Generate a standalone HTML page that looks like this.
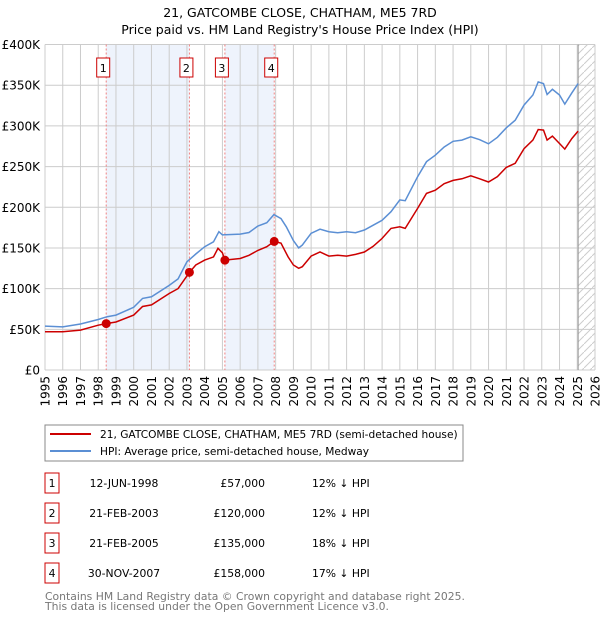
<!DOCTYPE html>
<html><head><meta charset="utf-8"><style>
body{margin:0;background:#fff;font-family:"DejaVu Sans","Liberation Sans",sans-serif;}
svg text{font-family:"DejaVu Sans","Liberation Sans",sans-serif;}
</style></head><body>
<svg id="chart" width="600" height="620">
<defs><pattern id="hatch" patternUnits="userSpaceOnUse" width="8" height="8"><path d="M0,8 L8,0" stroke="#ccc" stroke-width="1"/></pattern></defs>
<text x="300" y="17" text-anchor="middle" font-size="12.5">21, GATCOMBE CLOSE, CHATHAM, ME5 7RD</text>
<text x="300" y="34" text-anchor="middle" font-size="12.5">Price paid vs. HM Land Registry's House Price Index (HPI)</text>
<g id="plot"></g>
<rect x="45" y="425" width="418" height="36" fill="#fff" stroke="#888"/>
<line x1="50" y1="434" x2="91" y2="434" stroke="#cc0000" stroke-width="2"/>
<text x="100" y="438" font-size="10.6">21, GATCOMBE CLOSE, CHATHAM, ME5 7RD (semi-detached house)</text>
<line x1="50" y1="451" x2="91" y2="451" stroke="#5b8fd4" stroke-width="2"/>
<text x="100" y="455" font-size="10.6">HPI: Average price, semi-detached house, Medway</text>
<g id="table"></g>
<text x="45" y="600" font-size="10.8" fill="#777">Contains HM Land Registry data © Crown copyright and database right 2025.</text>
<text x="45" y="610" font-size="10.8" fill="#777">This data is licensed under the Open Government Licence v3.0.</text>
</svg>
<script>
const hpiYears=[1995,1996,1997,1998,1998.5,1999,2000,2000.5,2001,2002,2002.5,2003,2003.5,2004,2004.5,2004.8,2005,2006,2006.5,2007,2007.5,2007.9,2008.3,2008.6,2009,2009.3,2009.5,2010,2010.5,2011,2011.5,2012,2012.5,2013,2013.5,2014,2014.5,2015,2015.3,2016,2016.5,2017,2017.5,2018,2018.5,2019,2019.5,2020,2020.5,2021,2021.5,2022,2022.5,2022.8,2023.1,2023.3,2023.6,2024,2024.3,2024.7,2025.05];
const hpiValues=[54,53,56.5,62,65.5,67.5,77,88,90,104,112,133,142.5,151.5,157.6,170,166,167,169,177,181,191,186,176,159,150,153.5,168,173,170,168.7,170,168.7,172,178,184,194.5,209,208,237.5,256,264,274,281,282.5,286.6,283,278,286,297.6,307,325.5,338,354,352,338.6,345,338,326.7,340.6,352];
const priceYears=[1995,1996,1997,1998,1998.45,1999,2000,2000.5,2001,2002,2002.5,2003.14,2003.5,2004,2004.5,2004.75,2005,2005.14,2006,2006.5,2007,2007.5,2007.92,2008.3,2008.7,2009,2009.3,2009.5,2010,2010.5,2011,2011.5,2012,2012.5,2013,2013.5,2014,2014.5,2015,2015.3,2016,2016.5,2017,2017.5,2018,2018.5,2019,2019.5,2020,2020.5,2021,2021.5,2022,2022.5,2022.8,2023.1,2023.3,2023.6,2024,2024.3,2024.7,2025.05];
const priceValues=[47,47,49,55,57,59,67.5,78,80,94,100,120,129,135,139,149.5,144,135,137,141,147,151.5,158,156,139,129,125,127,140,145,140,141,140,142,145,152,161.7,174,176,174,198.6,217,221,229,233,235,238.7,235,231,237.5,249,254,272,282.5,295.6,294.8,282.5,287.4,278.4,271.5,284.5,293.6];
const saleLabels=["1","2","3","4"];
const saleYears=[1998.45,2003.14,2005.14,2007.92];
const saleValues=[57,120,135,158];
const saleDates=["12-JUN-1998","21-FEB-2003","21-FEB-2005","30-NOV-2007"];
const salePrices=["£57,000","£120,000","£135,000","£158,000"];
const saleDiffs=["12% ↓ HPI","12% ↓ HPI","18% ↓ HPI","17% ↓ HPI"];
const yTicks=[0,50,100,150,200,250,300,350,400];
const yTickLabels=["£0","£50K","£100K","£150K","£200K","£250K","£300K","£350K","£400K"];
const xTicks=[1995,1996,1997,1998,1999,2000,2001,2002,2003,2004,2005,2006,2007,2008,2009,2010,2011,2012,2013,2014,2015,2016,2017,2018,2019,2020,2021,2022,2023,2024,2025,2026];

const NS="http://www.w3.org/2000/svg";
const X0=45,X1=595,Y0=370,Y1=44.5;
const xs=y=>X0+(y-1995)/(2026-1995)*(X1-X0);
const ys=v=>Y0-v/400*(Y0-Y1);
const plot=document.getElementById('plot');
function mk(tag,attrs,parent){const e=document.createElementNS(NS,tag);for(const k in attrs)e.setAttribute(k,attrs[k]);(parent||plot).appendChild(e);return e;}

let r;
r=mk('rect',{x:xs(saleYears[0]),y:Y1,width:xs(saleYears[1])-xs(saleYears[0]),height:Y0-Y1,fill:'#eef3fc'});


r=mk('rect',{x:xs(saleYears[2]),y:Y1,width:xs(saleYears[3])-xs(saleYears[2]),height:Y0-Y1,fill:'#eef3fc'});


r=mk('rect',{x:xs(2025.05),y:Y1,width:X1-xs(2025.05),height:Y0-Y1,fill:'url(#hatch)'});



yTicks.forEach((v,i)=>{
  const l=mk('line',{x1:X0,x2:X1,y1:ys(v),y2:ys(v),stroke:'#ccc','stroke-width':1});
  
  
  const t=mk('text',{x:40,y:ys(v)+4.5,'text-anchor':'end','font-size':12});
  t.textContent=yTickLabels[i];
  
  
});
xTicks.forEach(y=>{
  const l=mk('line',{x1:xs(y),x2:xs(y),y1:Y1,y2:Y0,stroke:'#ccc','stroke-width':1});
  
  
  const t=mk('text',{x:0,y:0,'text-anchor':'end','font-size':12,transform:`translate(${xs(y)+4.5},376) rotate(-90)`});
  t.textContent=y;
  
  
});
const nl=mk('line',{x1:xs(2025.05),x2:xs(2025.05),y1:Y1,y2:Y0,stroke:'#999','stroke-width':1});



saleYears.forEach((y,i)=>{
  const l=mk('line',{x1:xs(y),x2:xs(y),y1:Y1,y2:Y0,stroke:'#f08080','stroke-width':1,'stroke-dasharray':'2,2'});
  
  
  const b=mk('rect',{x:xs(y)-9.5,y:58,width:13,height:19,fill:'#fff',stroke:'#cc0000'});
  
  
  const t=mk('text',{x:xs(y)-3,y:72,'text-anchor':'middle','font-size':11});
  t.textContent=saleLabels[i];
  
  
});

const pts=(xa,va)=>xa.map((y,i)=>xs(y).toFixed(1)+','+ys(va[i]).toFixed(1)).join(' ');
const hl=mk('polyline',{points:pts(hpiYears,hpiValues),fill:'none',stroke:'#5b8fd4','stroke-width':1.5});


const pl=mk('polyline',{points:pts(priceYears,priceValues),fill:'none',stroke:'#cc0000','stroke-width':1.5});


saleYears.forEach((y,i)=>{
  const c=mk('circle',{cx:xs(y),cy:ys(saleValues[i]),r:4.5,fill:'#cc0000'});
  
  
});

const tb=document.getElementById('table');
saleLabels.forEach((s,i)=>{
  const cy=483+i*30;
  const b=mk('rect',{x:45,y:cy-10,width:14,height:20,fill:'#fff',stroke:'#cc0000'},tb);
  
  
  const cells=[[52,'middle',s,'table-row-number'],[124,'middle',saleDates[i],'table-row-date'],[265,'end',salePrices[i],'table-row-price'],[312,'start',saleDiffs[i],'table-row-diff']];
  cells.forEach(c=>{
    const t=mk('text',{x:c[0],y:cy+4,'text-anchor':c[1],'font-size':10.8},tb);
    t.textContent=c[2];
    
    
  });
});
</script>
</body></html>
